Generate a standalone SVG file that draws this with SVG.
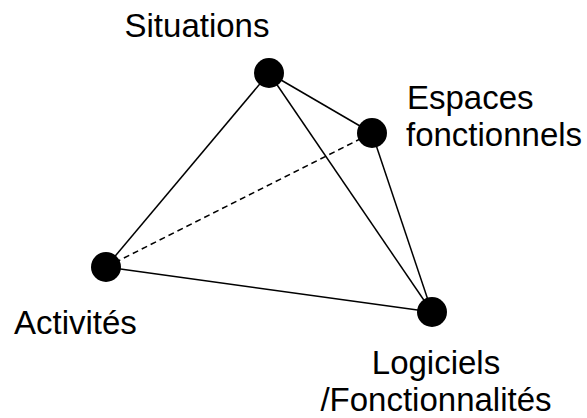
<svg xmlns="http://www.w3.org/2000/svg" width="587" height="418" viewBox="0 0 587 418">
<style>
.edge{stroke:#000;stroke-width:1.5;fill:none}
.dash{stroke-dasharray:6,4}
.node{fill:#000}
.lbl{font-family:"Liberation Sans",Arial,sans-serif;font-size:33px;fill:#000}
</style>
<rect width="587" height="418" fill="#fff"/>
<g id="connectors">
<line class="edge" x1="269" y1="73" x2="106" y2="267"/>
<line class="edge" x1="269" y1="73" x2="372" y2="133"/>
<line class="edge" x1="269" y1="73" x2="432" y2="312"/>
<line class="edge" x1="372" y1="133" x2="432" y2="312"/>
<line class="edge" x1="106" y1="267" x2="432" y2="312"/>
<line class="edge dash" x1="106" y1="267" x2="372" y2="133"/>
</g>
<g id="situations">
<circle class="node" cx="269" cy="73" r="15"/>
<text class="lbl" x="197" y="37" text-anchor="middle">Situations</text>
</g>
<g id="espaces">
<circle class="node" cx="372" cy="133" r="15"/>
<text class="lbl" x="407" y="109">Espaces</text>
<text class="lbl" x="406" y="146">fonctionnels</text>
</g>
<g id="activites">
<circle class="node" cx="106" cy="267" r="15"/>
<text class="lbl" x="14" y="334">Activités</text>
</g>
<g id="logiciels">
<circle class="node" cx="432" cy="312" r="15"/>
<text class="lbl" x="436" y="374" text-anchor="middle">Logiciels</text>
<text class="lbl" x="436" y="411" text-anchor="middle">/Fonctionnalités</text>
</g>
</svg>
